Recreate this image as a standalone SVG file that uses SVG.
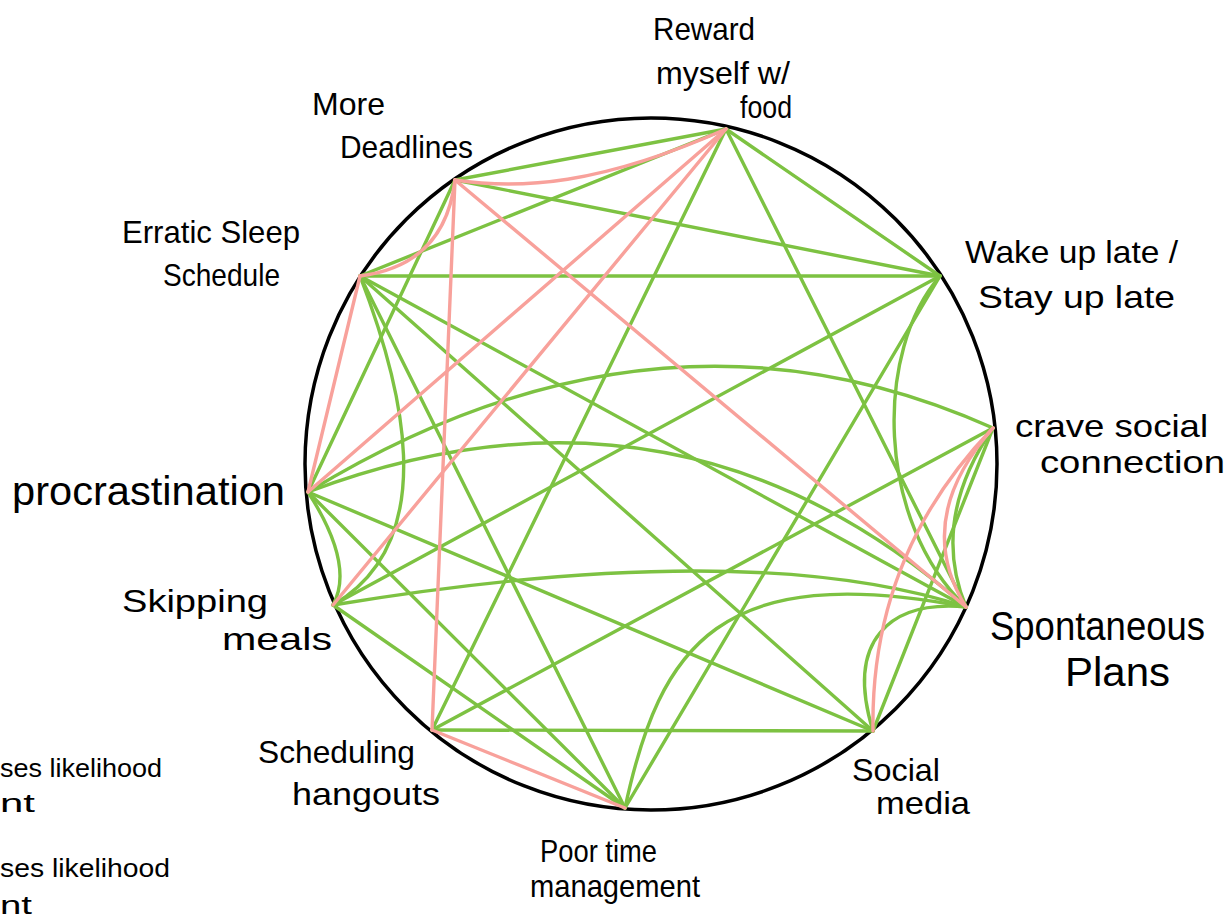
<svg xmlns="http://www.w3.org/2000/svg" width="1231" height="922" viewBox="0 0 1231 922">
<style>
.g{fill:none;stroke:#7dc242;stroke-width:3.4;stroke-linecap:round}
.p{fill:none;stroke:#f8a19b;stroke-width:3.4;stroke-linecap:round}
.ring{fill:none;stroke:#000;stroke-width:3.5}
text{font-family:"Liberation Sans Narrow","Liberation Sans",Arial,sans-serif;font-size:32px;fill:#000}
.big{font-size:40px}
.leg{font-size:26px}
</style>
<rect width="1231" height="922" fill="#fff"/>
<circle class="ring" cx="651" cy="464" r="346"/>
<g id="connectors">
<path class="g" d="M455,180 L726,129"/>
<path class="g" d="M360,276 L726,129"/>
<path class="g" d="M726,129 L940,276"/>
<path class="g" d="M726,129 L966,607"/>
<path class="g" d="M726,129 L432,730"/>
<path class="g" d="M455,180 L940,276"/>
<path class="g" d="M455,180 L308,492"/>
<path class="g" d="M360,276 L940,276"/>
<path class="g" d="M360,276 L966,607"/>
<path class="g" d="M360,276 L873,731"/>
<path class="g" d="M360,276 L625,808"/>
<path class="g" d="M940,276 L333,605"/>
<path class="g" d="M940,276 L625,808"/>
<path class="g" d="M308,492 L873,731"/>
<path class="g" d="M308,492 L625,808"/>
<path class="g" d="M333,605 L625,808"/>
<path class="g" d="M432,730 L993,428"/>
<path class="g" d="M432,730 L873,731"/>
<path class="g" d="M873,731 L993,428"/>
<path class="g" d="M360,276 C400,380 445,540 333,605"/>
<path class="g" d="M308,492 Q355,565 333,605"/>
<path class="g" d="M308,492 Q659,278 993,428"/>
<path class="g" d="M308,492 Q677,353 966,607"/>
<path class="g" d="M333,605 Q750,536 966,607"/>
<path class="g" d="M625,808 C660,645 720,560 966,607"/>
<path class="g" d="M873,731 C845,640 890,600 966,607"/>
<path class="g" d="M940,276 C875,350 875,520 966,607"/>
<path class="g" d="M993,428 Q930,520 966,607"/>
<path class="p" d="M726,129 L308,492"/>
<path class="p" d="M726,129 L333,605"/>
<path class="p" d="M455,180 L966,607"/>
<path class="p" d="M455,180 L432,730"/>
<path class="p" d="M360,276 L308,492"/>
<path class="p" d="M432,730 L625,808"/>
<path class="p" d="M455,180 C520,190 600,185 726,129"/>
<path class="p" d="M455,180 Q445,265 360,276"/>
<path class="p" d="M873,731 Q870,555 993,428"/>
<path class="p" d="M993,428 Q912,520 966,607"/>
</g>
<g id="node-reward"><text x="653" y="40" textLength="102" lengthAdjust="spacingAndGlyphs">Reward</text><text x="656" y="84" textLength="134" lengthAdjust="spacingAndGlyphs">myself w/</text><text x="740" y="118" textLength="52" lengthAdjust="spacingAndGlyphs">food</text></g>
<g id="node-more-deadlines"><text x="312" y="115" textLength="73" lengthAdjust="spacingAndGlyphs">More</text><text x="340" y="158" textLength="133" lengthAdjust="spacingAndGlyphs">Deadlines</text></g>
<g id="node-erratic-sleep"><text x="122" y="243" textLength="178" lengthAdjust="spacingAndGlyphs">Erratic Sleep</text><text x="163" y="286" textLength="117" lengthAdjust="spacingAndGlyphs">Schedule</text></g>
<g id="node-wake-up"><text x="965" y="263" textLength="213" lengthAdjust="spacingAndGlyphs">Wake up late /</text><text x="978" y="308" textLength="197" lengthAdjust="spacingAndGlyphs">Stay up late</text></g>
<g id="node-crave-social"><text x="1015" y="437" textLength="193" lengthAdjust="spacingAndGlyphs">crave social</text><text x="1040" y="473" textLength="185" lengthAdjust="spacingAndGlyphs">connection</text></g>
<g id="node-procrastination"><text class="big" x="12" y="505" textLength="273" lengthAdjust="spacingAndGlyphs">procrastination</text></g>
<g id="node-skipping-meals"><text x="122" y="612" textLength="146" lengthAdjust="spacingAndGlyphs">Skipping</text><text x="222" y="650" textLength="110" lengthAdjust="spacingAndGlyphs">meals</text></g>
<g id="node-spontaneous-plans"><text class="big" x="990" y="640" textLength="215" lengthAdjust="spacingAndGlyphs">Spontaneous</text><text class="big" x="1065" y="686" textLength="105" lengthAdjust="spacingAndGlyphs">Plans</text></g>
<g id="node-scheduling-hangouts"><text x="258" y="763" textLength="157" lengthAdjust="spacingAndGlyphs">Scheduling</text><text x="292" y="805" textLength="148" lengthAdjust="spacingAndGlyphs">hangouts</text></g>
<g id="node-social-media"><text x="852" y="781" textLength="88" lengthAdjust="spacingAndGlyphs">Social</text><text x="876" y="814" textLength="94" lengthAdjust="spacingAndGlyphs">media</text></g>
<g id="node-poor-time"><text x="540" y="862" textLength="117" lengthAdjust="spacingAndGlyphs">Poor time</text><text x="530" y="897" textLength="170" lengthAdjust="spacingAndGlyphs">management</text></g>
<g id="legend"><text class="leg" x="0" y="777" textLength="162" lengthAdjust="spacingAndGlyphs">ses likelihood</text><text class="leg" x="0" y="812" textLength="35" lengthAdjust="spacingAndGlyphs">nt</text><text class="leg" x="0" y="877" textLength="170" lengthAdjust="spacingAndGlyphs">ses likelihood</text><text class="leg" x="0" y="914" textLength="32" lengthAdjust="spacingAndGlyphs">nt</text></g>
</svg>
